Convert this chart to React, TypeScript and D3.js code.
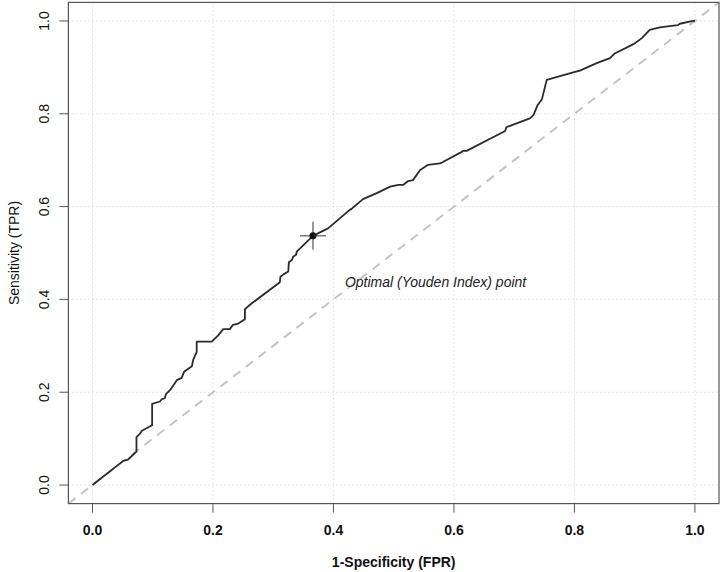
import React, { useRef, useEffect } from "react";
import * as d3 from "d3";

// ROC curve
const fprValues = [
  0, 0.051, 0.059, 0.073, 0.073, 0.079, 0.082, 0.095, 0.099, 0.099, 0.112, 0.115, 0.12, 0.122, 0.129,
  0.14, 0.148, 0.152, 0.156, 0.165, 0.167, 0.173, 0.173, 0.198, 0.209, 0.217, 0.228, 0.233, 0.242,
  0.253, 0.253, 0.261, 0.311, 0.312, 0.317, 0.325, 0.326, 0.331, 0.333, 0.338, 0.339, 0.366, 0.391,
  0.427, 0.43, 0.449, 0.472, 0.494, 0.508, 0.516, 0.524, 0.532, 0.544, 0.557, 0.577, 0.613, 0.615,
  0.621, 0.685, 0.687, 0.693, 0.726, 0.732, 0.739, 0.743, 0.746, 0.754, 0.798, 0.809, 0.837, 0.859,
  0.867, 0.898, 0.912, 0.925, 0.942, 0.958, 0.972, 0.975, 0.997, 1,
];
const tprValues = [
  0, 0.052, 0.055, 0.072, 0.103, 0.111, 0.117, 0.126, 0.129, 0.175, 0.18, 0.185, 0.187, 0.196, 0.205,
  0.226, 0.231, 0.244, 0.248, 0.256, 0.269, 0.287, 0.309, 0.309, 0.323, 0.336, 0.336, 0.345, 0.348,
  0.357, 0.379, 0.388, 0.437, 0.449, 0.454, 0.46, 0.48, 0.485, 0.492, 0.496, 0.503, 0.537, 0.553,
  0.593, 0.595, 0.616, 0.629, 0.643, 0.647, 0.647, 0.655, 0.657, 0.679, 0.69, 0.693, 0.718, 0.72,
  0.72, 0.763, 0.771, 0.774, 0.79, 0.797, 0.819, 0.826, 0.831, 0.873, 0.889, 0.893, 0.909, 0.92,
  0.93, 0.95, 0.963, 0.981, 0.986, 0.989, 0.991, 0.994, 1, 1,
];
const optimalFpr = [0.366];
const optimalTpr = [0.537];
const xTicks = [0, 0.2, 0.4, 0.6, 0.8, 1];
const yTicks = [0, 0.2, 0.4, 0.6, 0.8, 1];

const App = () => {
  const chartRef = useRef<SVGSVGElement>(null);

  useEffect(() => {
    const svg = d3.select(chartRef.current);
    svg.selectAll("*").remove();

    const width = 721;
    const height = 572;
    const left = 68.4;
    const right = 719;
    const top = 2.4;
    const bottom = 503.6;

    // R style 4% padding around [0,1]
    const x = d3.scaleLinear().domain([-0.04, 1.04]).range([left, right]);
    const y = d3.scaleLinear().domain([-0.04, 1.04]).range([bottom, top]);

    svg.attr("width", width).attr("height", height);
    svg.append("rect").attr("width", width).attr("height", height).attr("fill", "#fff");

    const font = "'Liberation Sans', Arial, sans-serif";

    // grid
    const grid = svg.append("g").attr("stroke", "#cfcfcf").attr("stroke-width", 1).attr("stroke-dasharray", "1,3");
    grid.selectAll("line.gx").data(xTicks).enter().append("line")
      .attr("x1", (d) => x(d)).attr("x2", (d) => x(d)).attr("y1", top).attr("y2", bottom);
    grid.selectAll("line.gy").data(yTicks).enter().append("line")
      .attr("y1", (d) => y(d)).attr("y2", (d) => y(d)).attr("x1", left).attr("x2", right);

    // chance diagonal
    svg.append("line")
      .attr("x1", x(-0.04)).attr("y1", y(-0.04))
      .attr("x2", x(1.04)).attr("y2", y(1.04))
      .attr("stroke", "#c4c4c4").attr("stroke-width", 2).attr("stroke-dasharray", "9,7");

    // ROC curve
    const pts = fprValues.map((f, i) => [f, tprValues[i]] as [number, number]);
    const line = d3.line<[number, number]>().x((d) => x(d[0])).y((d) => y(d[1]));
    svg.append("path").datum(pts)
      .attr("d", line)
      .attr("fill", "none")
      .attr("stroke", "#2b2b2b")
      .attr("stroke-width", 1.8)
      .attr("stroke-linejoin", "round");

    // optimal point with crosshair
    const ox = x(optimalFpr[0]);
    const oy = y(optimalTpr[0]);
    svg.append("line").attr("x1", ox - 13).attr("x2", ox + 13).attr("y1", oy).attr("y2", oy)
      .attr("stroke", "#555").attr("stroke-width", 1.2);
    svg.append("line").attr("x1", ox).attr("x2", ox).attr("y1", oy - 14).attr("y2", oy + 14)
      .attr("stroke", "#555").attr("stroke-width", 1.2);
    svg.append("circle").attr("cx", ox).attr("cy", oy).attr("r", 3.5).attr("fill", "#111");

    svg.append("text")
      .attr("x", x(0.419)).attr("y", y(0.427))
      .style("font-family", font).style("font-size", "14px").style("font-style", "italic")
      .style("fill", "#222")
      .text("Optimal (Youden Index) point");

    // box
    svg.append("rect")
      .attr("x", left).attr("y", top).attr("width", right - left).attr("height", bottom - top)
      .attr("fill", "none").attr("stroke", "#555").attr("stroke-width", 1.2);

    // x axis ticks and labels
    const xa = svg.append("g");
    xa.selectAll("line").data(xTicks).enter().append("line")
      .attr("x1", (d) => x(d)).attr("x2", (d) => x(d)).attr("y1", bottom).attr("y2", bottom + 9)
      .attr("stroke", "#555");
    xa.selectAll("text").data(xTicks).enter().append("text")
      .attr("x", (d) => x(d)).attr("y", 535)
      .style("text-anchor", "middle").style("font-family", font).style("font-size", "14px")
      .style("font-weight", "bold").style("fill", "#111")
      .text((d) => d.toFixed(1));

    // y axis ticks and labels
    const ya = svg.append("g");
    ya.selectAll("line").data(yTicks).enter().append("line")
      .attr("y1", (d) => y(d)).attr("y2", (d) => y(d)).attr("x1", left - 9).attr("x2", left)
      .attr("stroke", "#555");
    ya.selectAll("text").data(yTicks).enter().append("text")
      .attr("transform", (d) => `translate(49,${y(d)}) rotate(-90)`)
      .style("text-anchor", "middle").style("font-family", font).style("font-size", "14px")
      .style("fill", "#111")
      .text((d) => d.toFixed(1));

    // axis titles
    svg.append("text")
      .attr("x", (left + right) / 2).attr("y", 567)
      .style("text-anchor", "middle").style("font-family", font).style("font-size", "14px")
      .style("font-weight", "bold").style("fill", "#111")
      .text("1-Specificity (FPR)");
    svg.append("text")
      .attr("transform", `translate(19,${(top + bottom) / 2}) rotate(-90)`)
      .style("text-anchor", "middle").style("font-family", font).style("font-size", "14px")
      .style("fill", "#111")
      .text("Sensitivity (TPR)");
  }, []);

  return <svg ref={chartRef} style={{ position: "absolute", left: 0, top: 0, display: "block" }}></svg>;
};

export default App;
